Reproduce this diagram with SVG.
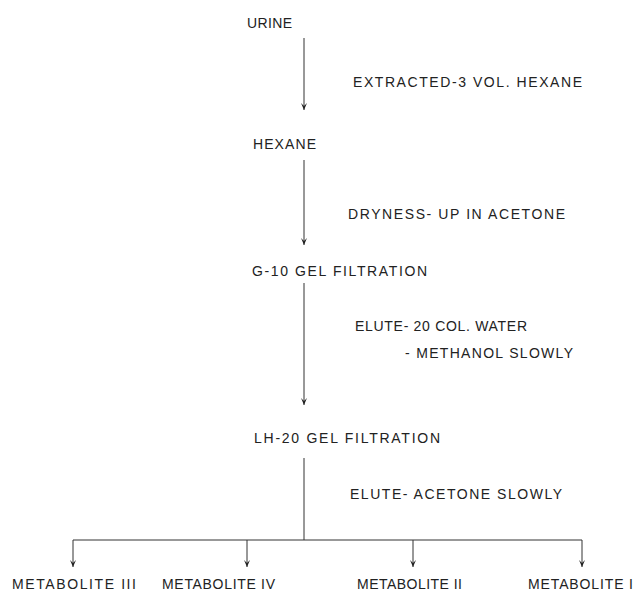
<svg xmlns="http://www.w3.org/2000/svg" width="644" height="595" viewBox="0 0 644 595">
<defs>
<marker id="ah" viewBox="-8 -4 9 8" markerWidth="9" markerHeight="8" refX="0" refY="0" orient="auto" markerUnits="userSpaceOnUse">
<path d="M-7,-3 L0,0 L-7,3 L-4,0 Z" fill="#222"/>
</marker>
<style>
text{font-family:"Liberation Sans",Arial,sans-serif;font-size:14px;fill:#222;}
.c line{stroke:#333;stroke-width:1;fill:none;}
</style>
</defs>
<rect width="644" height="595" fill="#fff"/>
<g class="c" id="connectors">
<line x1="304" y1="38" x2="304" y2="110" marker-end="url(#ah)"/>
<line x1="304" y1="160" x2="304" y2="245" marker-end="url(#ah)"/>
<line x1="304" y1="283" x2="304" y2="405" marker-end="url(#ah)"/>
<line x1="304" y1="458" x2="304" y2="540"/>
<line x1="73" y1="540" x2="582" y2="540"/>
<line x1="73" y1="540" x2="73" y2="567" marker-end="url(#ah)"/>
<line x1="247" y1="540" x2="247" y2="567" marker-end="url(#ah)"/>
<line x1="413" y1="540" x2="413" y2="567" marker-end="url(#ah)"/>
<line x1="582" y1="540" x2="582" y2="567" marker-end="url(#ah)"/>
</g>
<g id="labels">
<text x="353" y="87" textLength="229" lengthAdjust="spacing">EXTRACTED-3 VOL. HEXANE</text>
<text x="348" y="219" textLength="217" lengthAdjust="spacing">DRYNESS- UP IN ACETONE</text>
<text x="355" y="331" textLength="172" lengthAdjust="spacing">ELUTE- 20 COL. WATER</text>
<text x="405" y="358" textLength="168" lengthAdjust="spacing">- METHANOL SLOWLY</text>
<text x="350" y="499" textLength="212" lengthAdjust="spacing">ELUTE- ACETONE SLOWLY</text>
</g>
<g id="urine"><text x="247" y="28" textLength="45" lengthAdjust="spacing">URINE</text></g>
<g id="hexane"><text x="253" y="149" textLength="63" lengthAdjust="spacing">HEXANE</text></g>
<g id="g10"><text x="252" y="276" textLength="175" lengthAdjust="spacing">G-10 GEL FILTRATION</text></g>
<g id="lh20"><text x="254" y="443" textLength="186" lengthAdjust="spacing">LH-20 GEL FILTRATION</text></g>
<g id="met3"><text x="12" y="589" textLength="124" lengthAdjust="spacing">METABOLITE III</text></g>
<g id="met4"><text x="162" y="589" textLength="113" lengthAdjust="spacing">METABOLITE IV</text></g>
<g id="met2"><text x="357" y="589" textLength="105" lengthAdjust="spacing">METABOLITE II</text></g>
<g id="met1"><text x="528" y="589" textLength="105" lengthAdjust="spacing">METABOLITE I</text></g>
</svg>
